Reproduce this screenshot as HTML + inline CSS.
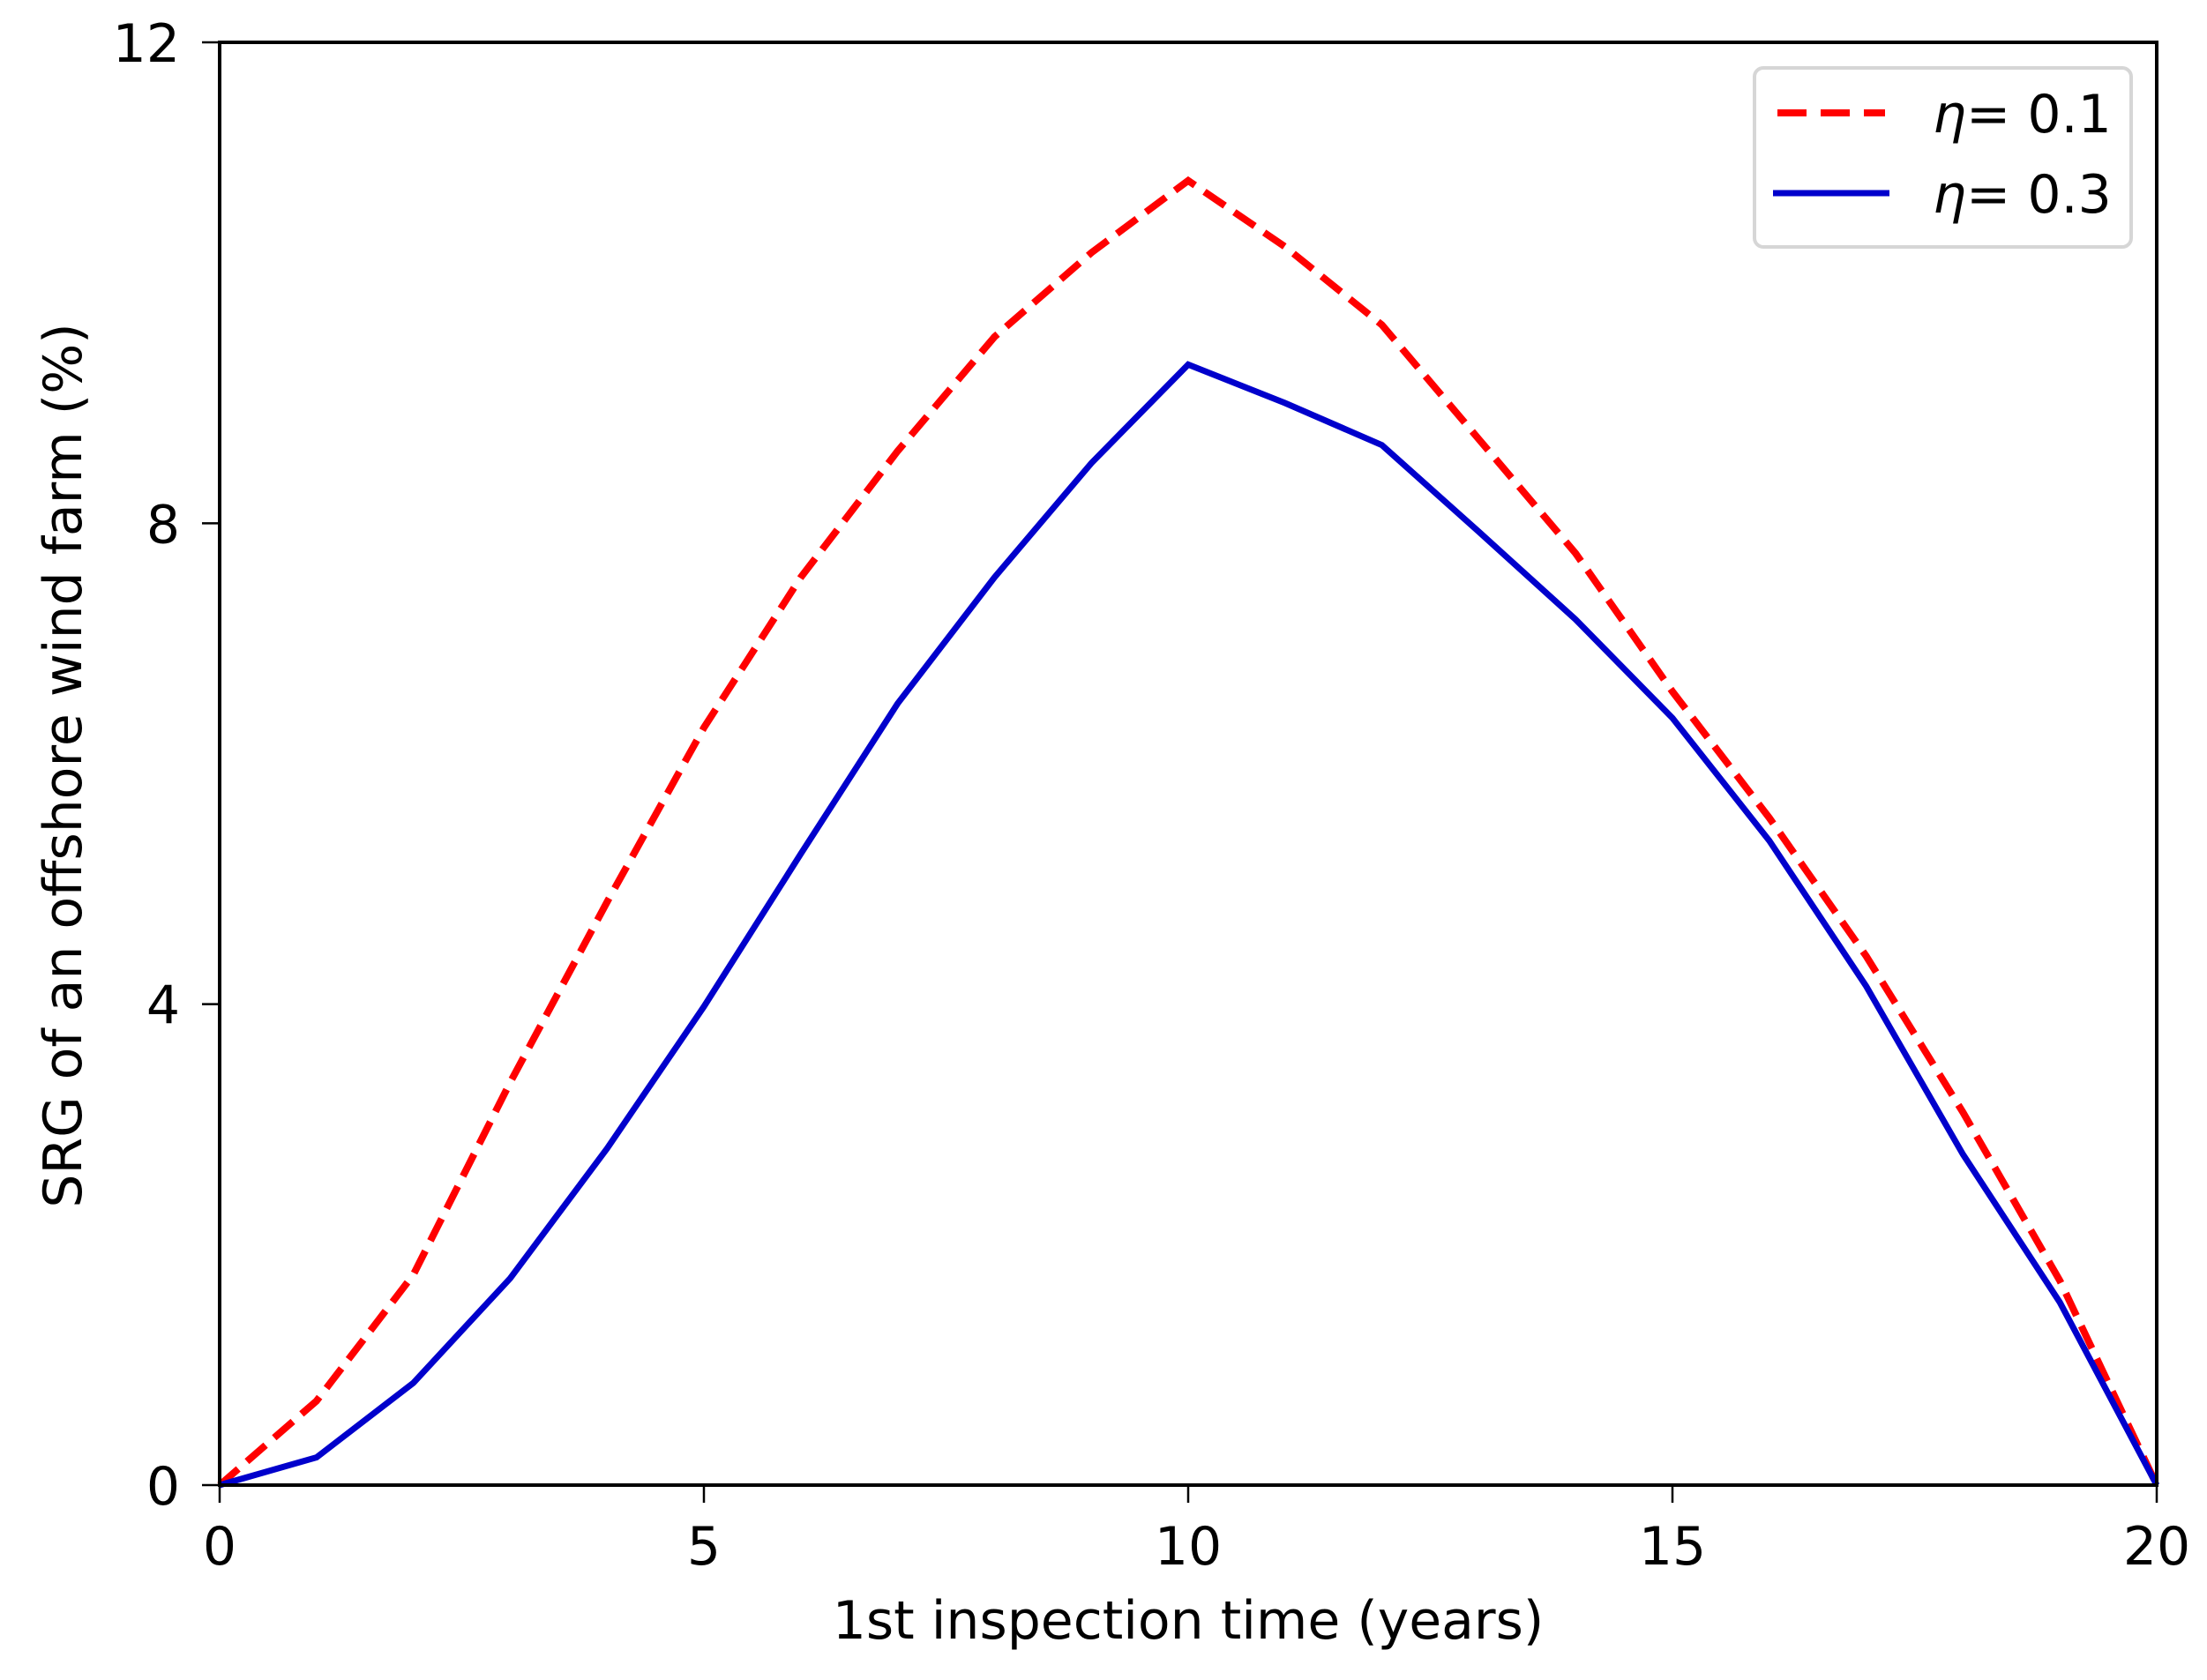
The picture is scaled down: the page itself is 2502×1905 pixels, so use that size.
<!DOCTYPE html>
<html><head><meta charset="utf-8"><style>
html,body{margin:0;padding:0;background:#fff;}
svg{display:block;}
text{font-family:"DejaVu Sans","Liberation Sans",sans-serif;fill:#000;}
</style></head><body>
<svg id="chart" width="2502" height="1905" viewBox="0 0 2502 1905" xmlns="http://www.w3.org/2000/svg">
<rect width="2502" height="1905" fill="#fff"/>
<g id="grid"></g>
</svg>
<script>
const xValues = [0,1,2,3,4,5,6,7,8,9,10,11,12,13,14,15,16,17,18,19,20];
const seriesEta01 = [0,0.7,1.75,3.35,4.85,6.3,7.55,8.6,9.55,10.25,10.85,10.3,9.65,8.7,7.75,6.6,5.55,4.4,3.1,1.7,0];
const seriesEta03 = [0,0.23,0.85,1.72,2.8,3.98,5.25,6.5,7.55,8.5,9.32,9.0,8.65,7.93,7.2,6.38,5.36,4.15,2.75,1.52,0];
const xTicks = [0,5,10,15,20];
const yTicks = [0,4,8,12];
const xTickLabels = ["0","5","10","15","20"];
const yTickLabels = ["0","4","8","12"];

const L=249,R=2445,T=48,B=1684;
const xMin=0,xMax=20,yMin=0,yMax=12;
function sx(v){return L+(v-xMin)/(xMax-xMin)*(R-L);}
function sy(v){return B-(v-yMin)/(yMax-yMin)*(B-T);}
const NS="http://www.w3.org/2000/svg";
const svg=document.getElementById('chart');
function mk(tag,attrs,parent){const e=document.createElementNS(NS,tag);for(const k in attrs)e.setAttribute(k,attrs[k]);(parent||svg).appendChild(e);return e;}

// series
function pts(arr){return arr.map((v,i)=>sx(xValues[i]).toFixed(1)+','+sy(v).toFixed(1)).join(' ');}
const red=mk('polyline',{points:pts(seriesEta01),fill:'none',stroke:'#ff0000','stroke-width':8,'stroke-dasharray':'28 13'});


const blue=mk('polyline',{points:pts(seriesEta03),fill:'none',stroke:'#0000cc','stroke-width':7,'stroke-linejoin':'miter'});



// axes frame
const frame=mk('rect',{x:L,y:T,width:R-L,height:B-T,fill:'none',stroke:'#000','stroke-width':4});



// x ticks
xTicks.forEach((v,i)=>{
  const t=mk('line',{x1:sx(v),x2:sx(v),y1:B,y2:B+20,stroke:'#000','stroke-width':2.5});
  
  
  const lb=mk('text',{x:sx(v),y:1774,'font-size':60,'text-anchor':'middle'});
  lb.textContent=xTickLabels[i];
  
  
});
// y ticks
yTicks.forEach((v,i)=>{
  const t=mk('line',{x1:L-20,x2:L,y1:sy(v),y2:sy(v),stroke:'#000','stroke-width':2.5});
  
  
  const lb=mk('text',{x:204,y:sy(v)+22,'font-size':60,'text-anchor':'end'});
  lb.textContent=yTickLabels[i];
  
  
});

// axis titles
const xt=mk('text',{x:(L+R)/2,y:1858,'font-size':60,'text-anchor':'middle'});
xt.textContent='1st inspection time (years)';


const yt=mk('text',{x:0,y:0,'font-size':60,'text-anchor':'middle',transform:'translate(92,868) rotate(-90)'});
yt.textContent='SRG of an offshore wind farm (%)';



// legend
const lg=mk('g',{});


mk('rect',{x:1989,y:77,width:427,height:203,rx:10,fill:'#fff',stroke:'#d6d6d6','stroke-width':4},lg);
const l1=mk('line',{x1:2015,x2:2137,y1:128,y2:128,stroke:'#ff0000','stroke-width':8,'stroke-dasharray':'33 16'},lg);


const t1=mk('text',{x:2191,y:150,'font-size':60},lg);
t1.innerHTML='<tspan font-style="italic">η</tspan>= 0.1';


const l2=mk('line',{x1:2010,x2:2142,y1:219,y2:219,stroke:'#0000cc','stroke-width':7},lg);


const t2=mk('text',{x:2191,y:241,'font-size':60},lg);
t2.innerHTML='<tspan font-style="italic">η</tspan>= 0.3';


</script>
</body></html>
